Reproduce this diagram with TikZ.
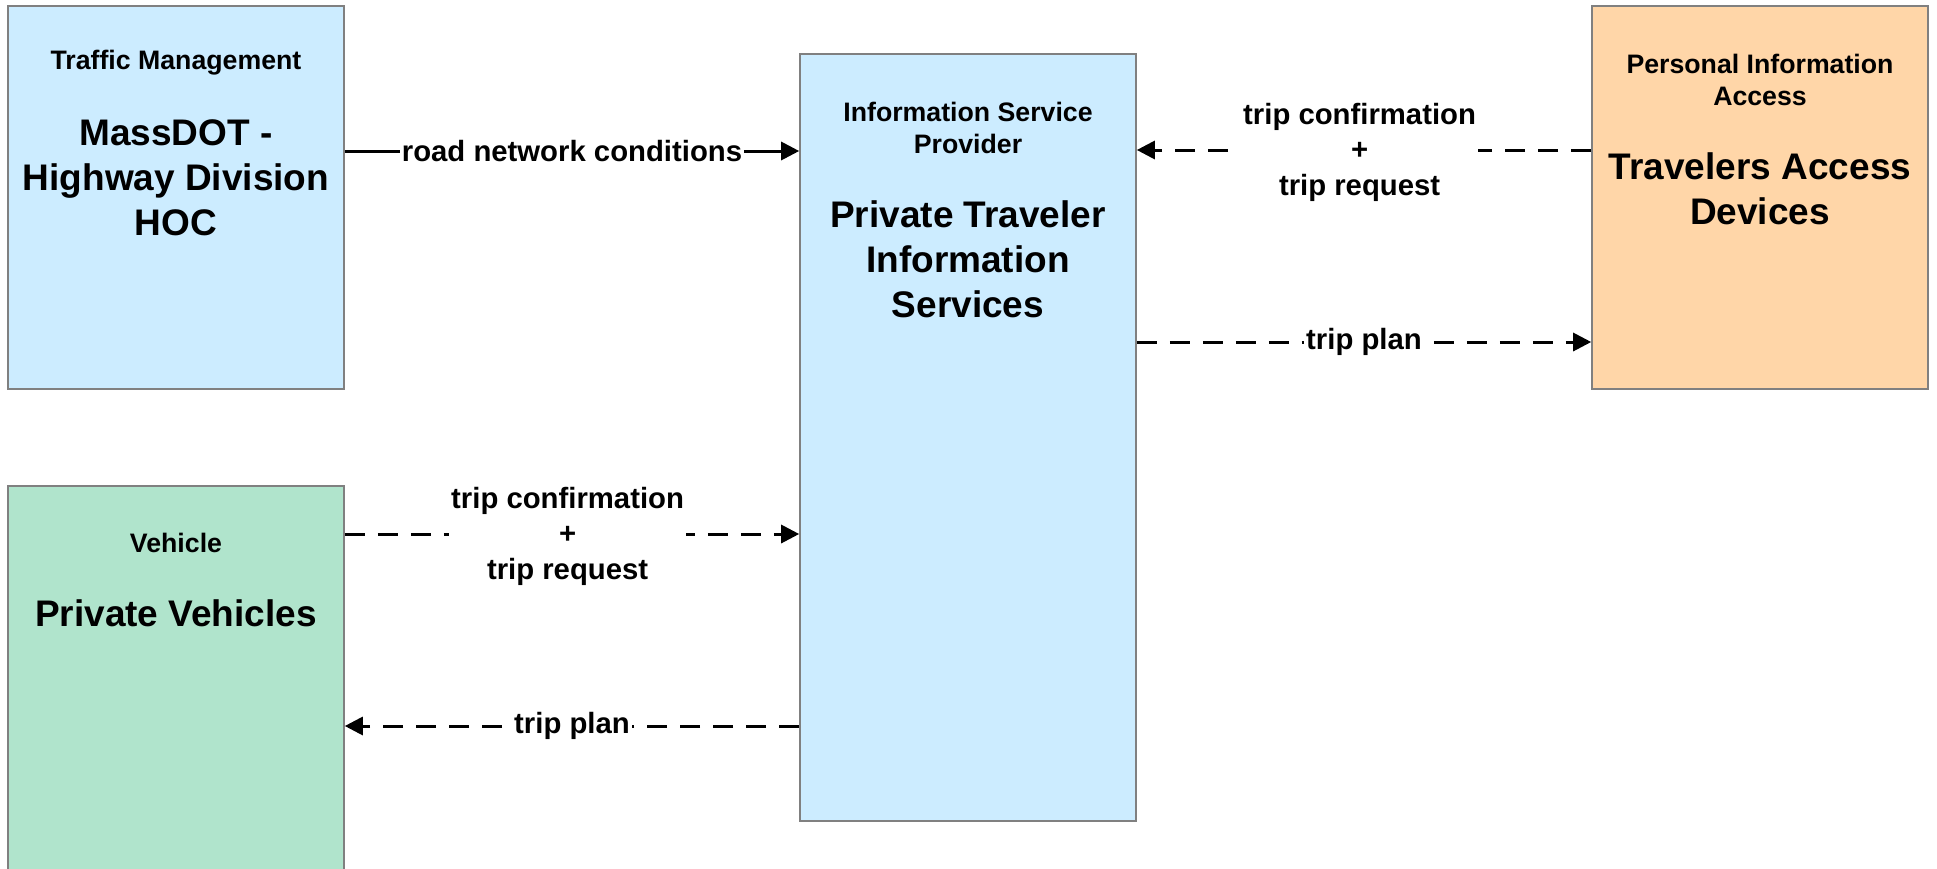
\documentclass[tikz,border=0pt]{standalone}
\usepackage{fontspec}
\setmainfont{Liberation Sans}
\usetikzlibrary{arrows.meta,calc}
\definecolor{boxblue}{RGB}{204,236,255}
\definecolor{boxorange}{RGB}{255,214,168}
\definecolor{boxgreen}{RGB}{176,228,204}
\definecolor{boxedge}{RGB}{128,128,128}
\begin{document}
\begin{tikzpicture}[x=0.5pt,y=-0.5pt,
  blk/.style={draw=boxedge, line width=0.8pt, minimum width=168pt, inner sep=0pt},
  cls/.style={font=\fontsize{13.35}{16}\selectfont\bfseries, align=center, inner sep=0pt},
  nm/.style={font=\fontsize{18.5}{22.5}\selectfont\bfseries, align=center, inner sep=0pt},
  lbl/.style={font=\fontsize{14.65}{17.5}\selectfont\bfseries, align=center, fill=white, inner sep=1pt},
  lbl3/.style={lbl, font=\fontsize{14.65}{17.8}\selectfont\bfseries, xshift=-2.2pt, yshift=-1.2pt},
  flow/.style={line width=1.5pt, -{Triangle[length=9pt,width=9pt]}},
  dflow/.style={flow, dash pattern=on 10pt off 6.5pt}]
\useasboundingbox (0,0) rectangle (1937,868);
\clip (0,0) rectangle (1937,868);

% blocks
\node[blk, fill=boxblue, minimum height=191.5pt] (tm) at (176,197.5) {};
\node[blk, fill=boxblue, minimum height=383.5pt] (isp) at (968,437.5) {};
\node[blk, fill=boxorange, minimum height=191.5pt] (pia) at (1760,197.5) {};
\node[blk, fill=boxgreen, minimum height=207pt] (veh) at (176,693) {};

% block texts
\node[cls] (tm-c) at (176,63) {Traffic Management};
\node[nm] (tm-n) at (176,178) {MassDOT -\\Highway Division\\HOC};
\node[cls] (isp-c) at (968,127.5) {Information Service\\Provider};
\node[nm] (isp-n) at (968,259) {Private Traveler\\Information\\Services};
\node[cls] (pia-c) at (1760,80) {Personal Information\\Access};
\node[nm] (pia-n) at (1760,188.5) {Travelers Access\\Devices};
\node[cls] (veh-c) at (176,543) {Vehicle};
\node[nm] (veh-n) at (176,613) {Private Vehicles};

% connectors
\draw[flow] (tm.east |- 0,151) -- node[lbl] (l1) {road network conditions} (isp.west |- 0,151);
\draw[dflow] (pia.west |- 0,150) -- node[lbl3] (l2) {trip confirmation\\+\\trip request} (isp.east |- 0,150);
\draw[dflow] (isp.east |- 0,342) -- node[lbl] (l3) {trip plan} (pia.west |- 0,342);
\draw[dflow] (veh.east |- 0,534) -- node[lbl3] (l4) {trip confirmation\\+\\trip request} (isp.west |- 0,534);
\draw[dflow] (isp.west |- 0,726) -- node[lbl] (l5) {trip plan} (veh.east |- 0,726);
\end{tikzpicture}
\end{document}
